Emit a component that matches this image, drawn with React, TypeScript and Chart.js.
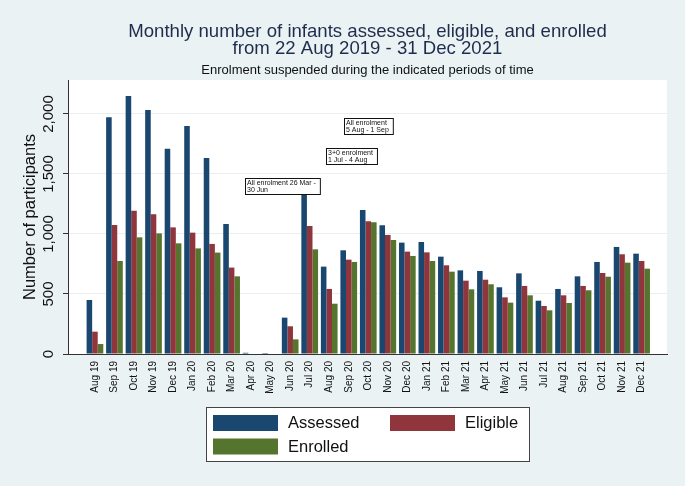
import React, { useEffect, useRef } from 'react';
import { Chart, registerables } from 'chart.js';

Chart.register(...registerables);

const months = [
  'Aug 19', 'Sep 19', 'Oct 19', 'Nov 19', 'Dec 19',
  'Jan 20', 'Feb 20', 'Mar 20', 'Apr 20', 'May 20', 'Jun 20', 'Jul 20', 'Aug 20', 'Sep 20', 'Oct 20', 'Nov 20', 'Dec 20',
  'Jan 21', 'Feb 21', 'Mar 21', 'Apr 21', 'May 21', 'Jun 21', 'Jul 21', 'Aug 21', 'Sep 21', 'Oct 21', 'Nov 21', 'Dec 21',
];

const assessed = [450, 1972, 2150, 2033, 1711, 1900, 1633, 1083, 10, 8, 303, 1380, 728, 864, 1200, 1072, 928, 933, 811, 697, 692, 556, 672, 444, 542, 647, 767, 892, 836];
const eligible = [186, 1075, 1194, 1164, 1055, 1011, 917, 720, 0, 0, 231, 1067, 542, 786, 1106, 992, 853, 847, 739, 611, 619, 472, 567, 400, 489, 567, 675, 831, 775];
const enrolled = [83, 775, 972, 1005, 922, 880, 845, 647, 0, 0, 122, 872, 419, 767, 1097, 950, 817, 775, 686, 539, 581, 428, 489, 364, 425, 531, 644, 761, 711];

const yTicks = [0, 500, 1000, 1500, 2000];

const titleLines = ['Monthly number of infants assessed, eligible, and enrolled', 'from 22 Aug 2019 - 31 Dec 2021'];
const subtitle = 'Enrolment suspended during the indicated periods of time';
const yTitle = 'Number of participants';

const noteX = [7.7, 11.83, 12.77];
const noteY = [1400, 1650, 1900];
const noteText = [
  ['All enrolment 26 Mar -', '30 Jun'],
  ['3+0 enrolment', '1 Jul - 4 Aug'],
  ['All enrolment', '5 Aug - 1 Sep'],
];

const FONT = "'Liberation Sans', Arial, Helvetica, sans-serif";
const COLORS = ['#1a476f', '#90353b', '#55752f'];

const decorPlugin = {
  id: 'decor',
  beforeDraw(chart: any) {
    const { ctx, chartArea } = chart;
    ctx.save();
    ctx.fillStyle = '#ffffff';
    ctx.fillRect(chartArea.left, chartArea.top, chartArea.right - chartArea.left, chartArea.bottom - chartArea.top);
    ctx.restore();
  },
  afterDatasetsDraw(chart: any) {
    const { ctx } = chart;
    const xs = chart.scales.x;
    const ys = chart.scales.y;
    ctx.save();
    ctx.font = `7px ${FONT}`;
    noteText.forEach((lines, i) => {
      const left = Math.round(xs.getPixelForValue(noteX[i])) + 0.5;
      const cy = ys.getPixelForValue(noteY[i]);
      const w = Math.max(...lines.map((l) => ctx.measureText(l).width)) + 6;
      const h = 16;
      const top = Math.round(cy - h / 2) + 0.5;
      ctx.fillStyle = '#ffffff';
      ctx.fillRect(left, top, w, h);
      ctx.strokeStyle = '#111';
      ctx.lineWidth = 1;
      ctx.strokeRect(left, top, w, h);
      ctx.fillStyle = '#111';
      ctx.textAlign = 'left';
      ctx.textBaseline = 'middle';
      lines.forEach((l, k) => ctx.fillText(l, left + 1.5, top + 4.5 + k * 7.2));
    });
    ctx.restore();
  },
  afterDraw(chart: any) {
    const { ctx, chartArea } = chart;
    const ys = chart.scales.y;
    const cx = (chartArea.left + chartArea.right) / 2;
    ctx.save();
    ctx.textAlign = 'center';
    ctx.textBaseline = 'alphabetic';
    ctx.fillStyle = '#1f2d4d';
    ctx.font = `18.6px ${FONT}`;
    ctx.fillText(titleLines[0], cx, 37);
    ctx.fillText(titleLines[1], cx, 54);
    ctx.fillStyle = '#111';
    ctx.font = `13px ${FONT}`;
    ctx.fillText(subtitle, cx, 74);

    ctx.font = `15px ${FONT}`;
    ctx.fillStyle = '#111';
    yTicks.forEach((v) => {
      const py = ys.getPixelForValue(v);
      ctx.save();
      ctx.translate(chartArea.left - 19, py);
      ctx.rotate(-Math.PI / 2);
      ctx.textAlign = 'center';
      ctx.textBaseline = 'middle';
      ctx.fillText(v.toLocaleString('en-US'), 0, 0);
      ctx.restore();
    });

    ctx.save();
    ctx.font = `16.5px ${FONT}`;
    ctx.translate(30, (chartArea.top + chartArea.bottom) / 2);
    ctx.rotate(-Math.PI / 2);
    ctx.textAlign = 'center';
    ctx.textBaseline = 'middle';
    ctx.fillText(yTitle, 0, 0);
    ctx.restore();

    const lx = Math.round(cx - 161.5) + 0.5;
    const ly = 407.5;
    ctx.fillStyle = '#ffffff';
    ctx.fillRect(lx, ly, 323, 54);
    ctx.strokeStyle = '#444';
    ctx.lineWidth = 1;
    ctx.strokeRect(lx, ly, 323, 54);
    const ds = chart.data.datasets;
    const pos = [
      [lx + 6.5, ly + 7.5],
      [lx + 183.5, ly + 7.5],
      [lx + 6.5, ly + 31],
    ];
    ctx.font = `16.5px ${FONT}`;
    ctx.textAlign = 'left';
    ctx.textBaseline = 'middle';
    ds.forEach((d: any, i: number) => {
      const [sx, sy] = pos[i];
      ctx.fillStyle = d.backgroundColor;
      ctx.fillRect(sx, sy, 65, 16);
      ctx.fillStyle = '#111';
      ctx.fillText(d.label, sx + 75, sy + 8.5);
    });
    ctx.restore();
  },
};

export default function App() {
  const ref = useRef<HTMLCanvasElement>(null);
  useEffect(() => {
    if (!ref.current) return;
    const mk = (arr: number[]) => arr.map((v, i) => ({ x: i, y: v }));
    const chart = new Chart(ref.current, {
      type: 'bar',
      data: {
        datasets: [
          { label: 'Assessed', data: mk(assessed), backgroundColor: COLORS[0] },
          { label: 'Eligible', data: mk(eligible), backgroundColor: COLORS[1] },
          { label: 'Enrolled', data: mk(enrolled), backgroundColor: COLORS[2] },
        ] as any,
      },
      options: {
        responsive: false,
        animation: false,
        events: [],
        datasets: { bar: { categoryPercentage: 0.855, barPercentage: 1, borderWidth: 0 } } as any,
        layout: { padding: { left: 0, right: 18, top: 80, bottom: 0 } },
        plugins: { legend: { display: false }, title: { display: false }, tooltip: { enabled: false } },
        scales: {
          x: {
            type: 'linear',
            min: -1.38,
            max: 29.3,
            offset: false,
            bounds: 'data',
            grid: { display: false, drawTicks: false },
            border: { display: true, color: '#333', width: 1 },
            ticks: {
              autoSkip: false,
              minRotation: 90,
              maxRotation: 90,
              padding: 7,
              color: '#111',
              font: { family: FONT, size: 10 },
              callback: (v: any) => months[v as number] ?? '',
            },
            afterBuildTicks: (axis: any) => {
              axis.ticks = months.map((_, i) => ({ value: i }));
            },
            afterFit: (s: any) => {
              s.height = 132;
            },
          },
          y: {
            min: 0,
            max: 2283,
            bounds: 'data',
            ticks: { stepSize: 500, display: false, includeBounds: true },
            grid: { color: '#e7eff1', lineWidth: 1, drawTicks: true, tickLength: 5, tickColor: '#333' },
            border: { display: true, color: '#333', width: 1 },
            afterBuildTicks: (axis: any) => {
              axis.ticks = yTicks.map((v) => ({ value: v }));
            },
            afterFit: (s: any) => {
              s.width = 68;
            },
          },
        },
      } as any,
      plugins: [decorPlugin],
    });
    return () => chart.destroy();
  }, []);
  return (
    <div style={{ position: 'fixed', left: 0, top: 0, width: 685, height: 486, background: '#eaf2f3' }}>
      <canvas ref={ref} width={685} height={486} style={{ display: 'block' }} />
    </div>
  );
}
